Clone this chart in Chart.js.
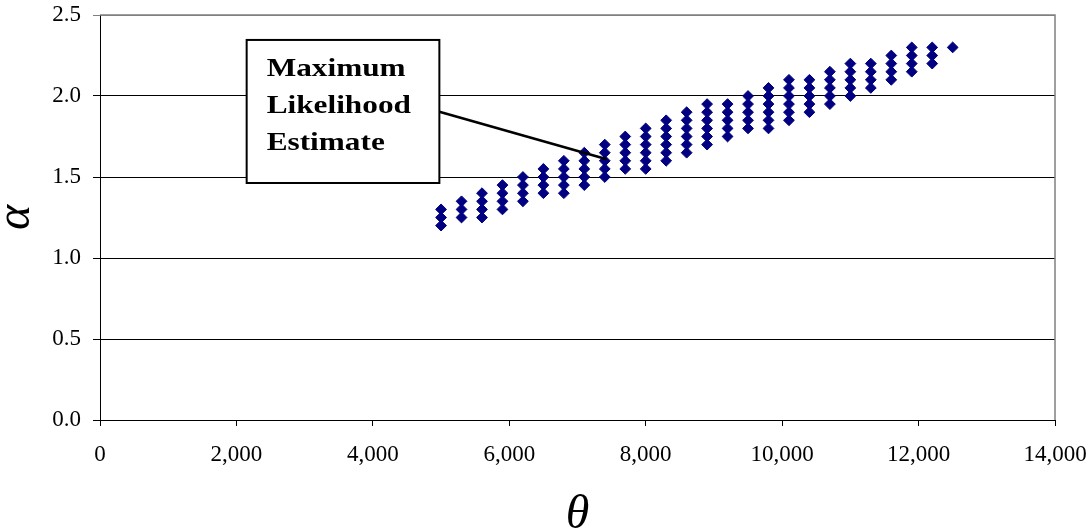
<!DOCTYPE html>
<html>
<head>
<meta charset="utf-8">
<script src="https://cdn.jsdelivr.net/npm/chart.js@4.4.1/dist/chart.umd.min.js"></script>
<style>
  html, body { margin: 0; padding: 0; background: #ffffff; }
  #wrap { width: 1092px; height: 531px; position: relative; }
</style>
</head>
<body>
<div id="wrap"><canvas id="c" width="1092" height="531"></canvas></div>
<script>
// ---- data ----
const thetaColumns = [5000, 5300, 5600, 5900, 6200, 6500, 6800, 7100, 7400, 7700,
                      8000, 8300, 8600, 8900, 9200, 9500, 9800, 10100, 10400, 10700,
                      11000, 11300, 11600, 11900, 12200, 12500];
const alphaColumns = [
  [1.20, 1.25, 1.30],
  [1.25, 1.30, 1.35],
  [1.25, 1.30, 1.35, 1.40],
  [1.30, 1.35, 1.40, 1.45],
  [1.35, 1.40, 1.45, 1.50],
  [1.40, 1.45, 1.50, 1.55],
  [1.40, 1.45, 1.50, 1.55, 1.60],
  [1.45, 1.50, 1.55, 1.60, 1.65],
  [1.50, 1.55, 1.60, 1.65, 1.70],
  [1.55, 1.60, 1.65, 1.70, 1.75],
  [1.55, 1.60, 1.65, 1.70, 1.75, 1.80],
  [1.60, 1.65, 1.70, 1.75, 1.80, 1.85],
  [1.65, 1.70, 1.75, 1.80, 1.85, 1.90],
  [1.70, 1.75, 1.80, 1.85, 1.90, 1.95],
  [1.75, 1.80, 1.85, 1.90, 1.95],
  [1.80, 1.85, 1.90, 1.95, 2.00],
  [1.80, 1.85, 1.90, 1.95, 2.00, 2.05],
  [1.85, 1.90, 1.95, 2.00, 2.05, 2.10],
  [1.90, 1.95, 2.00, 2.05, 2.10],
  [1.95, 2.00, 2.05, 2.10, 2.15],
  [2.00, 2.05, 2.10, 2.15, 2.20],
  [2.05, 2.10, 2.15, 2.20],
  [2.10, 2.15, 2.20, 2.25],
  [2.15, 2.20, 2.25, 2.30],
  [2.20, 2.25, 2.30],
  [2.30]
];
const xTicks = [0, 2000, 4000, 6000, 8000, 10000, 12000, 14000];
const yTicks = [0, 0.5, 1.0, 1.5, 2.0, 2.5];
const xTitle = 'θ';
const yTitle = 'α';
const annotationLines = ['Maximum', 'Likelihood', 'Estimate'];
// annotation placement in data units
const annBox = { xMin: 2150, xMax: 4975, yMin: 1.463, yMax: 2.346 };
const annPointerStartY = 1.903;
const annTarget = { x: 7430, y: 1.61 };

// ---- build points ----
const points = [];
thetaColumns.forEach((t, i) => {
  alphaColumns[i].forEach(a => points.push({ x: t, y: a }));
});

const annotationPlugin = {
  id: 'mleAnnotation',
  afterDatasetsDraw(chart) {
    const ctx = chart.ctx;
    const xs = chart.scales.x, ys = chart.scales.y;
    const l = xs.getPixelForValue(annBox.xMin);
    const r = xs.getPixelForValue(annBox.xMax);
    const t = ys.getPixelForValue(annBox.yMax);
    const b = ys.getPixelForValue(annBox.yMin);
    ctx.save();
    ctx.strokeStyle = '#000000';
    ctx.lineWidth = 2.5;
    ctx.beginPath();
    ctx.moveTo(r, ys.getPixelForValue(annPointerStartY));
    ctx.lineTo(xs.getPixelForValue(annTarget.x), ys.getPixelForValue(annTarget.y));
    ctx.stroke();
    ctx.fillStyle = '#ffffff';
    ctx.fillRect(l, t, r - l, b - t);
    ctx.lineWidth = 2;
    ctx.strokeRect(l, t, r - l, b - t);
    ctx.fillStyle = '#000000';
    ctx.font = 'bold 25px "Liberation Serif", "DejaVu Serif", serif';
    ctx.textBaseline = 'alphabetic';
    ctx.textAlign = 'left';
    const w0 = ctx.measureText(annotationLines[0]).width;
    const sx = 139 / w0;
    annotationLines.forEach((line, i) => {
      ctx.save();
      ctx.translate(l + 20, t + 36 + i * 37);
      ctx.scale(sx, 1);
      ctx.fillText(line, 0, 0);
      ctx.restore();
    });
    ctx.restore();
  }
};

const frameFix = {
  id: 'frameFix',
  afterDraw(chart) {
    const a = chart.chartArea;
    const ctx = chart.ctx;
    ctx.save();
    ctx.strokeStyle = '#808080';
    ctx.lineWidth = 1.5;
    ctx.beginPath();
    ctx.moveTo(a.left, a.top);
    ctx.lineTo(a.right, a.top);
    ctx.lineTo(a.right, a.bottom);
    ctx.stroke();
    ctx.restore();
  }
};

function zeroPad(scale) {
  scale.paddingTop = 0; scale.paddingBottom = 0;
  scale.paddingLeft = 0; scale.paddingRight = 0;
}

const tickFont = { family: '"Liberation Serif", "Times New Roman", serif', size: 23, lineHeight: 1.2 };
const titleFont = { family: '"Liberation Serif", "Times New Roman", serif', size: 48, style: 'italic', lineHeight: 1 };

new Chart(document.getElementById('c'), {
  type: 'scatter',
  data: {
    datasets: [{
      data: points,
      pointStyle: 'rectRot',
      pointRadius: 5.4,
      pointHoverRadius: 5.4,
      backgroundColor: '#000080',
      borderColor: '#000080',
      borderWidth: 1
    }]
  },
  options: {
    responsive: false,
    animation: false,
    events: [],
    layout: { padding: { left: 0, right: 37, top: 15, bottom: 0 } },
    plugins: { legend: { display: false }, tooltip: { enabled: false } },
    scales: {
      x: {
        type: 'linear',
        min: xTicks[0],
        max: xTicks[xTicks.length - 1],
        afterBuildTicks(scale) { scale.ticks = xTicks.map(v => ({ value: v })); },
        afterFit(scale) { scale.height = 111; zeroPad(scale); },
        ticks: {
          color: '#000000',
          font: tickFont,
          padding: 15,
          maxRotation: 0,
          autoSkip: false,
          callback: v => v.toLocaleString('en-US')
        },
        grid: { drawOnChartArea: false, drawTicks: true, tickLength: 6, color: '#000000' },
        border: { color: '#000000', width: 1 },
        title: { display: true, text: xTitle, color: '#000000', font: titleFont, padding: { top: -8, bottom: -8 } }
      },
      y: {
        type: 'linear',
        min: yTicks[0],
        max: yTicks[yTicks.length - 1],
        afterBuildTicks(scale) { scale.ticks = yTicks.map(v => ({ value: v })); },
        afterFit(scale) { scale.width = 100; zeroPad(scale); },
        ticks: {
          color: '#000000',
          font: tickFont,
          padding: 12,
          autoSkip: false,
          callback: v => Number(v).toFixed(1)
        },
        grid: {
          drawTicks: true,
          tickLength: 7,
          color: c => (c.tick && c.tick.value === 2.5) ? '#808080' : '#000000',
          lineWidth: 1
        },
        border: { color: '#000000', width: 1 },
        title: { display: true, text: yTitle, color: '#000000', font: titleFont, padding: { top: -8, bottom: -8 } }
      }
    }
  },
  plugins: [annotationPlugin, frameFix]
});
</script>
</body>
</html>
